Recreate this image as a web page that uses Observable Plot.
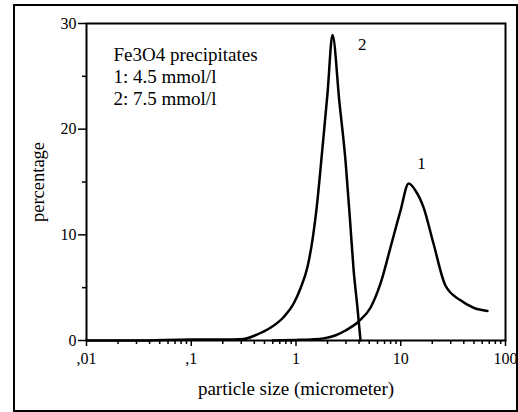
<!DOCTYPE html>
<html>
<head>
<meta charset="utf-8">
<script src="https://cdn.jsdelivr.net/npm/d3@7"></script>
<script src="https://cdn.jsdelivr.net/npm/@observablehq/plot@0.6"></script>
<style>
  html, body { margin: 0; padding: 0; background: #fff; }
  #wrap { position: relative; width: 518px; height: 412px; }
  #border { position: absolute; left: 13px; top: 4px; width: 501px; height: 404px; border: 2px solid #000; pointer-events: none; }
</style>
</head>
<body>
<div id="wrap"><div id="border"></div></div>
<script>
// Curve 1: 4.5 mmol/l
const sizes1 = [0.6, 1.0, 1.4, 1.83, 2.4, 2.97, 3.96, 5.14, 6.41, 7.98, 9.95, 11.9, 13.8, 16.5, 20.5, 26.7, 37.2, 49.5, 67.3];
const values1 = [0, 0.05, 0.1, 0.2, 0.5, 0.95, 1.8, 3.1, 5.4, 8.8, 12.3, 14.85, 14.2, 12.6, 9.2, 5.2, 3.8, 3.1, 2.8];
// Curve 2: 7.5 mmol/l
const sizes2 = [0.01, 0.03, 0.1, 0.2, 0.32, 0.41, 0.57, 0.76, 0.95, 1.1, 1.29, 1.44, 1.6, 1.78, 2.0, 2.23, 2.6, 2.97, 3.3, 3.54, 3.87, 4.13];
const values2 = [0, 0, 0.1, 0.1, 0.15, 0.5, 1.2, 2.2, 3.5, 4.9, 7.0, 9.6, 13.2, 18.0, 23.4, 28.9, 22.5, 17.0, 11.0, 6.8, 3.0, 0];

const xTicks = [0.01, 0.1, 1, 10, 100];
const xTickLabels = [",01", ",1", "1", "10", "100"];
const yTicks = [0, 10, 20, 30];
const yTickLabels = ["0", "10", "20", "30"];
const yMinor = [5, 15, 25];
const xMinor = [];
for (const d of [0.01, 0.1, 1, 10]) for (let k = 2; k <= 9; k++) xMinor.push(+(d * k).toPrecision(3));

const legendLines = ["Fe3O4 precipitates", "1: 4.5 mmol/l", "2: 7.5 mmol/l"];
const curveLabels = [{x: 15.8, y: 16.7, text: "1"}, {x: 4.3, y: 28.0, text: "2"}];
const xLabel = "particle size (micrometer)";
const yLabel = "percentage";

const s1 = sizes1.map((s, i) => ({size: s, value: values1[i]}));
const s2 = sizes2.map((s, i) => ({size: s, value: values2[i]}));

const chart = Plot.plot({
  width: 518,
  height: 412,
  marginLeft: 86,
  marginRight: 13,
  marginTop: 23,
  marginBottom: 72,
  style: {fontFamily: "Liberation Serif, serif", fontSize: "16px", color: "#000", background: "transparent"},
  x: {type: "log", domain: [0.01, 100]},
  y: {domain: [0, 30]},
  marks: [
    Plot.axisX(xTicks, {tickSize: 6, tickPadding: 6, strokeWidth: 1.5, tickFormat: d => xTickLabels[xTicks.indexOf(d)], label: null, fontSize: 16}),
    Plot.axisX(xMinor, {tickSize: 4, strokeWidth: 1.5, text: null, label: null}),
    Plot.axisY(yTicks, {tickSize: 8, tickPadding: 2, strokeWidth: 1.5, tickFormat: d => yTickLabels[yTicks.indexOf(d)], label: null, fontSize: 16}),
    Plot.axisY(yMinor, {tickSize: 4, strokeWidth: 1.5, text: null, label: null}),
    Plot.frame({stroke: "#000", strokeWidth: 2}),
    Plot.line(s2, {x: "size", y: "value", stroke: "#000", strokeWidth: 2.5, curve: "monotone-x"}),
    Plot.line(s1, {x: "size", y: "value", stroke: "#000", strokeWidth: 2.5, curve: "monotone-x"}),
    Plot.text(curveLabels, {x: "x", y: "y", text: "text", fontSize: 17, fill: "#000"}),
    Plot.text([legendLines.join("\n")], {frameAnchor: "top-left", dx: 27, dy: 21.5, lineAnchor: "top", textAnchor: "start", fontSize: 19, lineHeight: 1.16, fill: "#000"}),
    Plot.text([yLabel], {frameAnchor: "left", dx: -48, rotate: -90, textAnchor: "middle", lineAnchor: "middle", fontSize: 18.5, fill: "#000"}),
    Plot.text([xLabel], {frameAnchor: "bottom", dy: 48, textAnchor: "middle", lineAnchor: "middle", fontSize: 19, fill: "#000"})
  ]
});
document.getElementById("wrap").prepend(chart);
</script>
</body>
</html>
